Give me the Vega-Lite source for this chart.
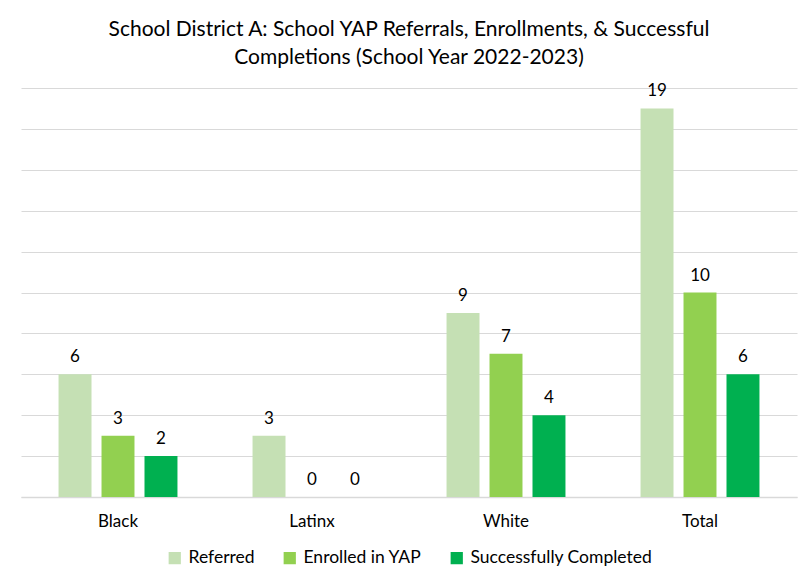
{
  "$schema": "https://vega.github.io/schema/vega-lite/v6.json",
  "width": 776,
  "height": 409,
  "autosize": {"type": "none"},
  "padding": {"left": 21, "top": 88, "right": 7, "bottom": 82},
  "background": "white",
  "title": {
    "text": ["School District A: School YAP Referrals, Enrollments, & Successful", "Completions (School Year 2022-2023)"],
    "font": "Lato",
    "fontSize": 21,
    "fontWeight": "normal",
    "color": "#000000",
    "lineHeight": 28,
    "anchor": "middle",
    "offset": 14
  },
  "data": {
    "values": [
      {"group": "Black", "series": "Referred", "value": 6},
      {"group": "Black", "series": "Enrolled in YAP", "value": 3},
      {"group": "Black", "series": "Successfully Completed", "value": 2},
      {"group": "Latinx", "series": "Referred", "value": 3},
      {"group": "Latinx", "series": "Enrolled in YAP", "value": 0},
      {"group": "Latinx", "series": "Successfully Completed", "value": 0},
      {"group": "White", "series": "Referred", "value": 9},
      {"group": "White", "series": "Enrolled in YAP", "value": 7},
      {"group": "White", "series": "Successfully Completed", "value": 4},
      {"group": "Total", "series": "Referred", "value": 19},
      {"group": "Total", "series": "Enrolled in YAP", "value": 10},
      {"group": "Total", "series": "Successfully Completed", "value": 6}
    ]
  },
  "encoding": {
    "x": {
      "field": "group",
      "type": "nominal",
      "sort": ["Black", "Latinx", "White", "Total"],
      "scale": {"paddingInner": 0.387, "paddingOuter": 0.1935},
      "axis": {
        "title": null,
        "labelAngle": 0,
        "labelFont": "Lato",
        "labelFontSize": 17,
        "labelColor": "#000000",
        "labelPadding": 16,
        "ticks": false,
        "domainColor": "#d9d9d9",
        "domainWidth": 1.5
      }
    },
    "xOffset": {
      "field": "series",
      "type": "nominal",
      "sort": ["Referred", "Enrolled in YAP", "Successfully Completed"],
      "scale": {"paddingInner": 0.233, "paddingOuter": 0}
    },
    "y": {
      "field": "value",
      "type": "quantitative",
      "scale": {"domain": [0, 20], "nice": false},
      "axis": {
        "title": null,
        "values": [0, 2, 4, 6, 8, 10, 12, 14, 16, 18, 20],
        "labels": false,
        "ticks": false,
        "domain": false,
        "gridColor": "#d9d9d9",
        "gridWidth": 1
      }
    }
  },
  "layer": [
    {
      "mark": {"type": "bar"},
      "encoding": {
        "color": {
          "field": "series",
          "type": "nominal",
          "scale": {
            "domain": ["Referred", "Enrolled in YAP", "Successfully Completed"],
            "range": ["#c5e0b4", "#92d050", "#00b050"]
          },
          "legend": {
            "title": null,
            "orient": "bottom",
            "direction": "horizontal",
            "symbolType": "square",
            "symbolSize": 150,
            "symbolStrokeWidth": 0,
            "labelFont": "Lato",
            "labelFontSize": 17.5,
            "labelColor": "#000000",
            "labelOffset": 5,
            "labelLimit": 0,
            "columnPadding": 26,
            "offset": 20
          }
        }
      }
    },
    {
      "mark": {"type": "text", "baseline": "middle", "dy": -17, "font": "Lato", "fontSize": 17, "color": "#000000"},
      "encoding": {
        "text": {"field": "value", "type": "quantitative"}
      }
    }
  ],
  "config": {
    "view": {"stroke": null},
    "legend": {"layout": {"bottom": {"anchor": "middle"}}}
  }
}
